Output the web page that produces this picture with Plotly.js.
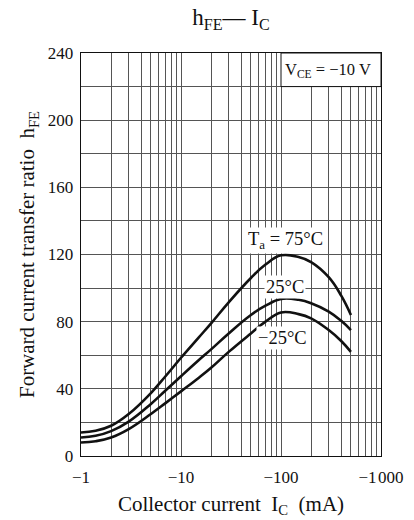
<!DOCTYPE html>
<html>
<head>
<meta charset="utf-8">
<script src="https://cdn.plot.ly/plotly-3.0.1.min.js"></script>
<style>html,body{margin:0;padding:0;background:#fff;}#chart{width:414px;height:520px;}</style>
</head>
<body>
<div id="chart"></div>
<script>
// Collector current magnitude (mA); axis is labelled with the negative sign (-Ic)
const icValues = [1, 1.4, 2, 3, 5, 7, 10, 15, 20, 30, 50, 70, 100, 150, 200, 300, 400, 500];
const hfe75  = [14, 15, 18, 25, 37.5, 47.5, 58.5, 70.5, 79, 91.5, 106, 114, 119.5, 118.5, 115.5, 106.5, 95.5, 84];
const hfe25  = [11, 12, 14.8, 20.5, 31, 39, 47.5, 57, 63.5, 73, 84, 89.5, 93.5, 93, 91, 86, 80.5, 75];
const hfeM25 = [8, 8.8, 11, 16, 25, 31.5, 38.5, 46.5, 52.5, 62, 73, 80, 85.5, 84.5, 82, 75, 68.5, 62];
const seriesNames = ["Ta = 75°C", "25°C", "−25°C"];
const xTickMajor = [1, 10, 100, 1000];
const xTickLabels = ["−1", "−10", "−100", "−1\u200A000"];
const xMinorTicks = [2, 3, 4, 5, 6, 7, 8, 9, 20, 30, 40, 50, 60, 70, 80, 90, 200, 300, 400, 500, 600, 700, 800, 900];
const yTickMajor = [0, 40, 80, 120, 160, 200, 240];
const yMinorTicks = [20, 60, 100, 140, 180, 220];

const font = "Liberation Serif, Times New Roman, serif";
const gridColor = "#555";

const line = {color: "#111", width: 2.6, shape: "spline", smoothing: 1.2};
const traces = [hfe75, hfe25, hfeM25].map((ys, i) => ({
  x: icValues, y: ys, type: "scatter", mode: "lines", name: seriesNames[i],
  line: line, hoverinfo: "skip"
}));

const layout = {
  width: 414, height: 520,
  margin: {l: 81, r: 33, t: 53, b: 63.5},
  paper_bgcolor: "#fff", plot_bgcolor: "#fff",
  showlegend: false,
  font: {family: font, color: "#111", size: 17},
  title: {text: "h<sub>FE</sub>— I<sub>C</sub>", x: 0.558, xanchor: "center", y: 0.967, yanchor: "middle",
          font: {family: font, size: 23, color: "#111"}},
  xaxis: {
    type: "log", range: [0, 3], tickmode: "array", tickvals: xTickMajor, ticktext: xTickLabels,
    showgrid: true, gridcolor: gridColor, gridwidth: 1,
    minor: {tickmode: "array", tickvals: xMinorTicks, showgrid: true, gridcolor: gridColor, gridwidth: 1, ticks: ""},
    ticks: "outside", ticklen: 5, tickcolor: "rgba(0,0,0,0)",
    showline: true, linecolor: "#111", linewidth: 1.3, mirror: true, zeroline: false,
    tickfont: {family: font, size: 17, color: "#111"},
    title: {text: "Collector current  I<sub>C</sub>  (mA)", standoff: 10, font: {family: font, size: 21, color: "#111"}}
  },
  yaxis: {
    range: [0, 240], tickmode: "array", tickvals: yTickMajor,
    showgrid: true, gridcolor: gridColor, gridwidth: 1,
    minor: {tickmode: "array", tickvals: yMinorTicks, showgrid: true, gridcolor: gridColor, gridwidth: 1, ticks: ""},
    ticks: "outside", ticklen: 3, tickcolor: "rgba(0,0,0,0)",
    showline: true, linecolor: "#111", linewidth: 1.3, mirror: true, zeroline: false,
    tickfont: {family: font, size: 17, color: "#111"},
    title: {text: "Forward current transfer ratio  h<sub>FE</sub>", standoff: 7, font: {family: font, size: 21, color: "#111"}}
  },
  shapes: [{type: "rect", xref: "paper", yref: "y", x0: 2/3, x1: 1, y0: 220, y1: 240,
            fillcolor: "#fff", line: {color: "#111", width: 1}, layer: "above"}],
  annotations: [
    {xref: "paper", yref: "y", x: 0.822, xanchor: "center", y: 230, text: "V<sub>CE</sub> = −10 V", showarrow: false,
     font: {family: font, size: 16.5, color: "#111"}},
    {xref: "x", yref: "y", x: 2.04, y: 128.5, xanchor: "center", text: "T<sub>a</sub> = 75°C", showarrow: false, bgcolor: "#fff",
     font: {family: font, size: 18.5, color: "#111"}},
    {xref: "x", yref: "y", x: 2.04, y: 100.5, xanchor: "center", text: "25°C", showarrow: false, bgcolor: "#fff",
     font: {family: font, size: 18.5, color: "#111"}},
    {xref: "x", yref: "y", x: 2.01, y: 70.5, xanchor: "center", text: "−25°C", showarrow: false, bgcolor: "#fff",
     font: {family: font, size: 18.5, color: "#111"}}
  ]
};

Plotly.newPlot("chart", traces, layout, {staticPlot: true, displayModeBar: false});
</script>
</body>
</html>
